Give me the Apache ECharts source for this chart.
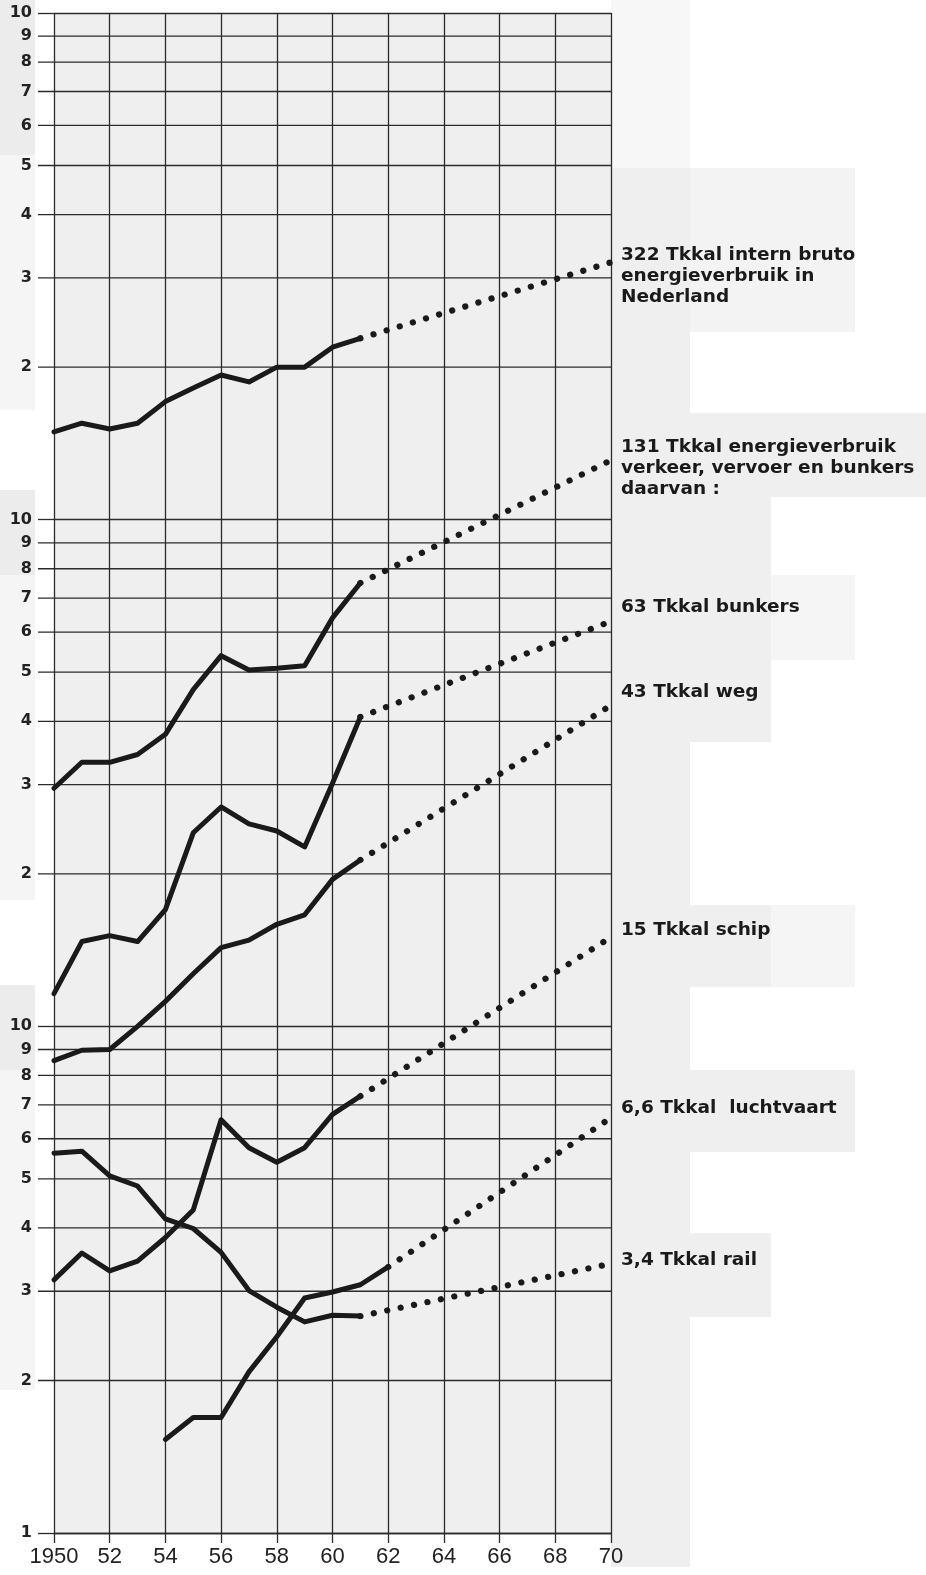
<!DOCTYPE html>
<html>
<head>
<meta charset="utf-8">
<script src="https://cdn.jsdelivr.net/npm/echarts@6/dist/echarts.min.js"></script>
<style>
html,body{margin:0;padding:0;background:#ffffff;}
#c{width:926px;height:1575px;}
</style>
</head>
<body>
<div id="c"></div>
<script>
// ---------- data ----------
const years = [1950,1951,1952,1953,1954,1955,1956,1957,1958,1959,1960,1961];
const totaal   = [149,155,151,155,171,182,193,187,200,200,219,228];
const verkeer  = [29.5,33.2,33.2,34.4,37.7,46.2,53.9,50.5,50.9,51.5,64,75];
const bunkers  = [11.6,14.7,15.1,14.7,17.0,24.1,27.1,25.1,24.3,22.6,30.2,40.8];
const weg      = [8.56,8.97,9.0,10.0,11.2,12.7,14.3,14.8,15.9,16.6,19.5,21.3];
const schip    = [3.16,3.57,3.29,3.44,3.83,4.34,6.54,5.76,5.39,5.76,6.7,7.28];
const rail     = [5.62,5.67,5.07,4.84,4.17,3.99,3.58,3.01,2.79,2.61,2.69,2.68];
const luchtYears = [1954,1955,1956,1957,1958,1959,1960,1961,1962];
const luchtvaart = [1.53,1.69,1.69,2.08,2.44,2.91,2.99,3.09,3.35];

const prognoseYear = 1970;
const prognose1970 = [322,131,63,43,15,6.6,3.4];
const endLabels = [
  '322 Tkkal intern bruto\nenergieverbruik in\nNederland',
  '131 Tkkal energieverbruik\nverkeer, vervoer en bunkers\ndaarvan :',
  '63 Tkkal bunkers',
  '43 Tkkal weg',
  '15 Tkkal schip',
  '6,6 Tkkal  luchtvaart',
  '3,4 Tkkal rail'
];
const gridMantissas = [2,3,4,5,6,7,8,9];
const decades = [1,10,100];

// ---------- styling (not data) ----------
const labelDy = [14, 8, -14, -13, -7, -10, -4];
const INK = '#1a1a1a';
const GRID = '#2b2b2b';
const patches = [
  [0,0,35,155,'#ececec'],[0,155,35,255,'#f5f5f5'],[0,490,35,85,'#ececec'],
  [0,575,35,325,'#f5f5f5'],[0,985,35,85,'#ececec'],[0,1070,35,320,'#f5f5f5'],
  [611,0,79,168,'#f7f7f7'],[611,168,79,245,'#efefef'],[690,168,165,164,'#f3f3f3'],
  [611,413,315,84,'#efefef'],[611,497,160,163,'#efefef'],[771,575,84,85,'#f5f5f5'],
  [611,660,160,82,'#efefef'],[611,742,79,163,'#efefef'],[611,905,160,82,'#efefef'],
  [771,905,84,82,'#f5f5f5'],[611,987,79,83,'#efefef'],[611,1070,244,82,'#efefef'],
  [611,1152,79,81,'#efefef'],[611,1233,160,84,'#efefef'],[611,1317,79,250,'#efefef']
];

// ---------- build ----------
const solidSets = [
  {x: years, y: totaal},
  {x: years, y: verkeer},
  {x: years, y: bunkers},
  {x: years, y: weg},
  {x: years, y: schip},
  {x: luchtYears, y: luchtvaart},
  {x: years, y: rail}
];
const names = ['totaal','verkeer','bunkers','weg','schip','luchtvaart','rail'];

const minorValues = [];
decades.forEach(d => gridMantissas.forEach(m => minorValues.push(m * d)));

const series = [];
series.push({
  type: 'custom',
  silent: true,
  z: 1,
  clip: false,
  data: minorValues.map(v => [1950, v]),
  encode: {x: 0, y: 1},
  renderItem: function (params, api) {
    const v = api.value(1);
    const p0 = api.coord([1950, v]);
    const p1 = api.coord([1970, v]);
    const mant = Math.round(v / Math.pow(10, Math.floor(Math.log10(v) + 1e-9)));
    return {
      type: 'group',
      children: [
        {type: 'line', shape: {x1: p0[0] - 16, y1: p0[1], x2: p1[0], y2: p1[1]},
         style: {stroke: GRID, lineWidth: 1.3}},
        {type: 'text', x: p0[0] - 22, y: p0[1],
         style: {text: String(mant), align: 'right', verticalAlign: 'middle',
                 fill: '#222', font: 'bold 16px "DejaVu Sans"'}}
      ]
    };
  }
});

solidSets.forEach((s, i) => {
  const pts = s.x.map((yr, j) => [yr, s.y[j]]);
  series.push({
    name: names[i], type: 'line', data: pts, symbol: 'none', z: 3,
    lineStyle: {color: INK, width: 5, join: 'round', cap: 'round'},
    silent: true
  });
  const last = pts[pts.length - 1];
  series.push({
    name: names[i] + ' prognose', type: 'line', symbol: 'none', z: 3,
    data: [last, [prognoseYear, prognose1970[i]]],
    lineStyle: {color: INK, width: 6.2, type: [0.1, 13.6], cap: 'round'},
    silent: true,
    endLabel: {
      show: true, formatter: endLabels[i], distance: 10, offset: [0, labelDy[i]],
      color: '#1a1a1a', fontFamily: 'DejaVu Sans', fontWeight: 'bold',
      fontSize: 18.5, lineHeight: 21, align: 'left', verticalAlign: 'middle'
    }
  });
});

const chart = echarts.init(document.getElementById('c'), null, {renderer: 'canvas'});
chart.setOption({
  animation: false,
  backgroundColor: '#ffffff',
  graphic: patches.map(p => ({type: 'rect', z: -10, silent: true,
    shape: {x: p[0], y: p[1], width: p[2], height: p[3]}, style: {fill: p[4]}})),
  grid: {left: 54, right: 315, top: 13, bottom: 42, show: true,
         backgroundColor: '#efefef', borderWidth: 0},
  xAxis: {
    type: 'value', min: 1950, max: 1970, interval: 2,
    axisLine: {show: true, lineStyle: {color: GRID, width: 1.3}},
    axisTick: {show: true, length: 10, lineStyle: {color: GRID, width: 1.3}},
    axisLabel: {
      margin: 13, color: '#222', fontSize: 22, fontFamily: 'Liberation Sans',
      formatter: v => (v === 1950 ? '1950' : String(v % 100).padStart(2, '0'))
    },
    splitLine: {show: true, lineStyle: {color: GRID, width: 1.3}}
  },
  yAxis: {
    type: 'log', logBase: 10, min: 1, max: 1000,
    axisLine: {show: false},
    axisTick: {show: true, length: 16, lineStyle: {color: GRID, width: 1.3}},
    axisLabel: {
      margin: 22, color: '#222', fontSize: 16, fontWeight: 'bold', fontFamily: 'DejaVu Sans',
      formatter: v => (Math.abs(v - 1) < 1e-9 ? '1' : '10')
    },
    splitLine: {show: true, lineStyle: {color: GRID, width: 1.3}}
  },
  series: series
});
</script>
</body>
</html>
